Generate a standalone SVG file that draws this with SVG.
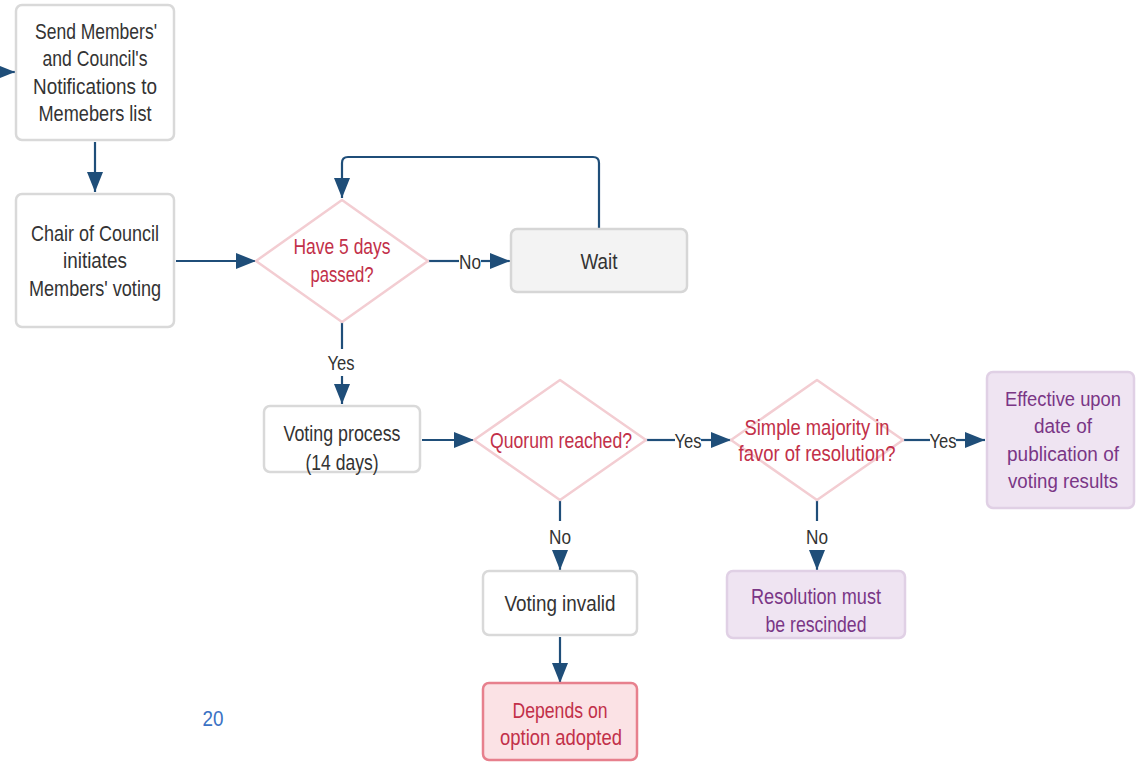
<svg xmlns="http://www.w3.org/2000/svg" width="1136" height="762" viewBox="0 0 1136 762">
<style>
text{font-family:"Liberation Sans",Arial,sans-serif;font-size:22px;text-anchor:middle;dominant-baseline:central}
.box{fill:#fff;stroke:#d9d9d9;stroke-width:2.5}
.grey{fill:#f3f3f3;stroke:#d6d6d6;stroke-width:2.5}
.purple{fill:#efe4f2;stroke:#e0d0e5;stroke-width:2.5}
.pink{fill:#fbe2e5;stroke:#e7808d;stroke-width:2.5}
.dia{fill:#fff;stroke:#f3cdd2;stroke-width:2.5}
.t{fill:#333}
.r{fill:#c23049}
.p{fill:#7a3686}
.pe{fill:#7a3686;font-size:20px}
.c{fill:none;stroke:#1f4e79;stroke-width:2.2}
.lbl{fill:#333;font-size:21px}
</style>
<defs>
<marker id="a" viewBox="0 0 20 16" refX="20" refY="8" markerWidth="20" markerHeight="16" markerUnits="userSpaceOnUse" orient="auto">
<path d="M0,0 L20,8 L0,16 z" fill="#1f4e79"/>
</marker>
</defs>
<g id="connectors">
<path class="c" d="M0,72 H15" marker-end="url(#a)"/>
<path class="c" d="M95,142 V192" marker-end="url(#a)"/>
<path class="c" d="M176,261 H256" marker-end="url(#a)"/>
<path class="c" d="M428,261 H459"/>
<path class="c" d="M481,261 H510" marker-end="url(#a)"/>
<text class="lbl" x="470" y="261" textLength="22" lengthAdjust="spacingAndGlyphs">No</text>
<path class="c" d="M599,229 V163 Q599,157 593,157 H348 Q342,157 342,163 V198" marker-end="url(#a)"/>
<path class="c" d="M342,322 V349"/>
<text class="lbl" x="341" y="362" textLength="27" lengthAdjust="spacingAndGlyphs">Yes</text>
<path class="c" d="M342,376 V404" marker-end="url(#a)"/>
<path class="c" d="M422,440 H474" marker-end="url(#a)"/>
<path class="c" d="M646,440 H675"/>
<text class="lbl" x="688" y="440" textLength="27" lengthAdjust="spacingAndGlyphs">Yes</text>
<path class="c" d="M701,440 H731" marker-end="url(#a)"/>
<path class="c" d="M903,440 H930"/>
<text class="lbl" x="943" y="440" textLength="27" lengthAdjust="spacingAndGlyphs">Yes</text>
<path class="c" d="M956,440 H985" marker-end="url(#a)"/>
<path class="c" d="M560,500 V521"/>
<text class="lbl" x="560" y="536" textLength="22" lengthAdjust="spacingAndGlyphs">No</text>
<path class="c" d="M560,550 V570" marker-end="url(#a)"/>
<path class="c" d="M817,500 V521"/>
<text class="lbl" x="817" y="536" textLength="22" lengthAdjust="spacingAndGlyphs">No</text>
<path class="c" d="M817,550 V570" marker-end="url(#a)"/>
<path class="c" d="M560,637 V683" marker-end="url(#a)"/>
</g>
<g id="n1">
<rect class="box" x="16" y="5" width="158" height="135" rx="6"/>
<text class="t" x="96" y="31" textLength="122" lengthAdjust="spacingAndGlyphs">Send Members'</text>
<text class="t" x="95" y="58" textLength="105" lengthAdjust="spacingAndGlyphs">and Council's</text>
<text class="t" x="95" y="86" textLength="124" lengthAdjust="spacingAndGlyphs">Notifications to</text>
<text class="t" x="95" y="113" textLength="113" lengthAdjust="spacingAndGlyphs">Memebers list</text>
</g>
<g id="n2">
<rect class="box" x="16" y="194" width="158" height="133" rx="6"/>
<text class="t" x="95" y="233" textLength="128" lengthAdjust="spacingAndGlyphs">Chair of Council</text>
<text class="t" x="95" y="260" textLength="64" lengthAdjust="spacingAndGlyphs">initiates</text>
<text class="t" x="95" y="288" textLength="132" lengthAdjust="spacingAndGlyphs">Members' voting</text>
</g>
<g id="d1">
<path class="dia" d="M342,200 L428,261 L342,322 L256,261 Z" stroke-linejoin="round"/>
<text class="r" x="342" y="246" textLength="97" lengthAdjust="spacingAndGlyphs">Have 5 days</text>
<text class="r" x="342" y="274" textLength="63" lengthAdjust="spacingAndGlyphs">passed?</text>
</g>
<g id="wait">
<rect class="grey" x="511" y="229" width="176" height="63" rx="6"/>
<text class="t" x="599" y="261" textLength="37" lengthAdjust="spacingAndGlyphs">Wait</text>
</g>
<g id="voting">
<rect class="box" x="264" y="406" width="156" height="66" rx="6"/>
<text class="t" x="342" y="433" textLength="117" lengthAdjust="spacingAndGlyphs">Voting process</text>
<text class="t" x="342" y="462" textLength="73" lengthAdjust="spacingAndGlyphs">(14 days)</text>
</g>
<g id="d2">
<path class="dia" d="M560,380 L646,440 L560,500 L474,440 Z" stroke-linejoin="round"/>
<text class="r" x="561" y="440" textLength="142" lengthAdjust="spacingAndGlyphs">Quorum reached?</text>
</g>
<g id="d3">
<path class="dia" d="M817,380 L903,440 L817,500 L731,440 Z" stroke-linejoin="round"/>
<text class="r" x="817" y="427" textLength="145" lengthAdjust="spacingAndGlyphs">Simple majority in</text>
<text class="r" x="817" y="453" textLength="157" lengthAdjust="spacingAndGlyphs">favor of resolution?</text>
</g>
<g id="effective">
<rect class="purple" x="987" y="372" width="147" height="136" rx="6"/>
<text class="pe" x="1063" y="399" textLength="116" lengthAdjust="spacingAndGlyphs">Effective upon</text>
<text class="pe" x="1063" y="426" textLength="58" lengthAdjust="spacingAndGlyphs">date of</text>
<text class="pe" x="1063" y="454" textLength="112" lengthAdjust="spacingAndGlyphs">publication of</text>
<text class="pe" x="1063" y="481" textLength="110" lengthAdjust="spacingAndGlyphs">voting results</text>
</g>
<g id="invalid">
<rect class="box" x="483" y="571" width="154" height="64" rx="6"/>
<text class="t" x="560" y="603" textLength="111" lengthAdjust="spacingAndGlyphs">Voting invalid</text>
</g>
<g id="depends">
<rect class="pink" x="483" y="683" width="154" height="77" rx="6"/>
<text class="r" x="560" y="710" textLength="95" lengthAdjust="spacingAndGlyphs">Depends on</text>
<text class="r" x="561" y="737" textLength="122" lengthAdjust="spacingAndGlyphs">option adopted</text>
</g>
<g id="rescind">
<rect class="purple" x="727" y="571" width="178" height="67" rx="6"/>
<text class="p" x="816" y="596" textLength="130" lengthAdjust="spacingAndGlyphs">Resolution must</text>
<text class="p" x="816" y="624" textLength="101" lengthAdjust="spacingAndGlyphs">be rescinded</text>
</g>
<text x="213" y="718" textLength="21" lengthAdjust="spacingAndGlyphs" style="fill:#3b72c4;font-size:22px">20</text>
</svg>
